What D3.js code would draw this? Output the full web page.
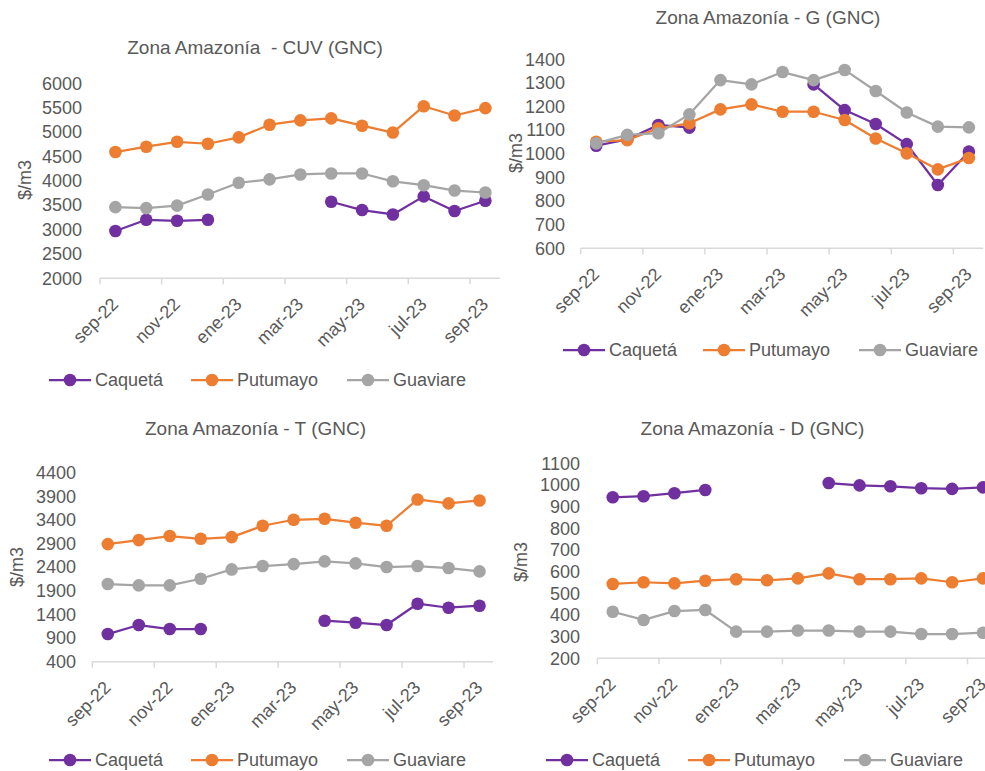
<!DOCTYPE html>
<html><head><meta charset="utf-8">
<script src="https://cdn.jsdelivr.net/npm/d3@7"></script>
<style>
body{margin:0;background:#fff}
svg{display:block}
text{font-family:"Liberation Sans",Arial,sans-serif;fill:#595959}
</style>
</head><body>
<svg id="c" width="985" height="771"></svg>
<script>
// ---------- DATA ----------
const months = ["sep-22","oct-22","nov-22","dic-22","ene-23","feb-23","mar-23","abr-23","may-23","jun-23","jul-23","ago-23","sep-23"];
const tickLabels = ["sep-22","nov-22","ene-23","mar-23","may-23","jul-23","sep-23"];
const seriesNames = ["Caquetá","Putumayo","Guaviare"];
const seriesColors = ["#7030A0","#ED7D31","#A5A5A5"];

const cuvCaqueta  = [2970,3200,3180,3200,null,null,null,3570,3400,3310,3680,3380,3590];
const cuvPutumayo = [4590,4700,4800,4760,4890,5150,5240,5280,5130,4990,5530,5340,5490];
const cuvGuaviare = [3460,3440,3490,3720,3960,4030,4130,4150,4150,3990,3910,3800,3760];
const cuvTicks = [2000,2500,3000,3500,4000,4500,5000,5500,6000];

const gCaqueta  = [1034,1061,1122,1111,null,null,null,1294,1185,1126,1041,868,1009];
const gPutumayo = [1051,1058,1108,1129,1188,1209,1178,1178,1143,1065,1002,934,982];
const gGuaviare = [1044,1080,1087,1167,1312,1294,1346,1312,1355,1266,1175,1115,1112];
const gTicks = [600,700,800,900,1000,1100,1200,1300,1400];

const tCaqueta  = [985,1176,1091,1091,null,null,null,1267,1225,1176,1627,1542,1585];
const tPutumayo = [2889,2974,3059,3002,3037,3277,3404,3425,3341,3277,3834,3750,3813];
const tGuaviare = [2043,2015,2015,2156,2353,2424,2466,2523,2480,2403,2424,2382,2311];
const tTicks = [400,900,1400,1900,2400,2900,3400,3900,4400];

const dCaqueta  = [943,948,962,977,null,null,null,1009,998,994,985,982,989];
const dPutumayo = [543,551,546,558,565,560,569,592,565,565,569,551,569];
const dGuaviare = [415,377,418,423,323,323,328,328,323,323,312,312,318];
const dTicks = [200,300,400,500,600,700,800,900,1000,1100];

// ---------- LAYOUT ----------
const panels = [
  {title:"Zona Amazonía  - CUV (GNC)", tx:255, ty:47, x0:100, x1:500.8, axEnd:500, yTop:83.3, yBot:278.3,
   ticks:cuvTicks, series:[cuvCaqueta,cuvPutumayo,cuvGuaviare], ylx:25, yly:180, tickR:82, legY:380, leg:[49,191,347]},
  {title:"Zona Amazonía - G (GNC)", tx:768, ty:17, x0:580.7, x1:984.4, axEnd:983, yTop:59.3, yBot:248.3,
   ticks:gTicks, series:[gCaqueta,gPutumayo,gGuaviare], ylx:516, yly:153, tickR:565, legY:350, leg:[563,703,859]},
  {title:"Zona Amazonía - T (GNC)", tx:255.5, ty:428, x0:92.3, x1:495, axEnd:493, yTop:472.7, yBot:661.7,
   ticks:tTicks, series:[tCaqueta,tPutumayo,tGuaviare], ylx:17, yly:567, tickR:76, legY:760, leg:[49,191,347]},
  {title:"Zona Amazonía - D (GNC)", tx:752.5, ty:428, x0:597.3, x1:998.4, axEnd:1000, yTop:463.3, yBot:658.3,
   ticks:dTicks, series:[dCaqueta,dPutumayo,dGuaviare], ylx:521, yly:562, tickR:580, legY:760, leg:[546,688,844]}
];

const svg = d3.select("#c");

panels.forEach(p => {
  const g = svg.append("g");
  const x = d3.scaleBand().domain(months).range([p.x0, p.x1]).paddingInner(0).paddingOuter(0);
  const y = d3.scaleLinear().domain([p.ticks[0], p.ticks[p.ticks.length-1]]).range([p.yBot, p.yTop]);
  const bw = x.bandwidth();
  const cx = m => x(m) + bw/2;

  // title
  g.append("text").attr("x", p.tx).attr("y", p.ty).attr("text-anchor","middle")
    .attr("dominant-baseline","central").style("white-space","pre")
    .style("font-size","19px").text(p.title);

  // y axis label
  g.append("text").attr("transform",`translate(${p.ylx},${p.yly}) rotate(-90)`)
    .attr("text-anchor","middle").attr("dominant-baseline","central")
    .style("font-size","18px").text("$/m3");

  // y axis
  const ya = g.append("g").attr("transform",`translate(${p.tickR},0)`)
    .call(d3.axisLeft(y).tickValues(p.ticks).tickSize(0).tickPadding(0).tickFormat(d3.format("d")));
  ya.select(".domain").remove();
  ya.selectAll("text").style("font-size","18px").attr("fill","#595959").attr("font-family",null);

  // x axis
  const xa = g.append("g").attr("transform",`translate(0,${p.yBot})`)
    .call(d3.axisBottom(x).tickValues(tickLabels).tickSize(6).tickPadding(0));
  xa.select(".domain").attr("d",`M${p.x0},0H${p.axEnd}`).attr("stroke","#d9d9d9").attr("stroke-width",1.5);
  xa.selectAll(".tick line").attr("x1",-bw/2).attr("x2",-bw/2).attr("stroke","#d9d9d9").attr("stroke-width",1.5);
  xa.selectAll(".tick text").attr("font-family",null).attr("fill","#595959").style("font-size","18px")
    .attr("text-anchor","end").attr("dy",null).attr("y",0)
    .attr("transform","translate(4,27) rotate(-45)");

  // series
  p.series.forEach((vals, si) => {
    const data = months.map((m,i) => ({m, v: vals[i]}));
    const line = d3.line().defined(d => d.v != null).x(d => cx(d.m)).y(d => y(d.v));
    g.append("path").datum(data).attr("d", line).attr("fill","none")
      .attr("stroke", seriesColors[si]).attr("stroke-width",2.25).attr("stroke-linejoin","round");
    g.selectAll(null).data(data.filter(d => d.v != null)).enter().append("circle")
      .attr("cx", d => cx(d.m)).attr("cy", d => y(d.v)).attr("r",6.3)
      .attr("fill", seriesColors[si]);
  });

  // legend
  seriesNames.forEach((name, si) => {
    const lx = p.leg[si];
    g.append("line").attr("x1",lx).attr("x2",lx+42).attr("y1",p.legY).attr("y2",p.legY)
      .attr("stroke",seriesColors[si]).attr("stroke-width",2.25);
    g.append("circle").attr("cx",lx+21).attr("cy",p.legY).attr("r",6.3).attr("fill",seriesColors[si]);
    g.append("text").attr("x",lx+46).attr("y",p.legY).attr("dominant-baseline","central")
      .style("font-size","18px").text(name);
  });
});
</script>
</body></html>
